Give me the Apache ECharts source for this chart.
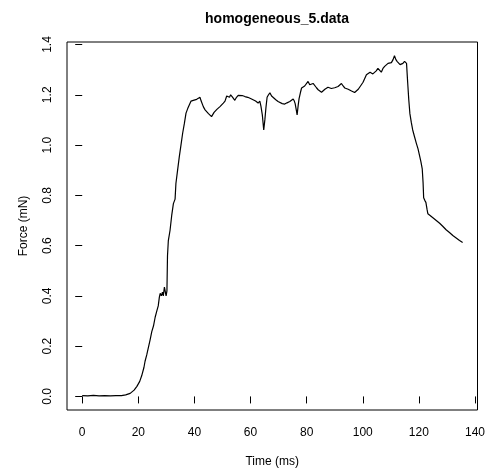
<!DOCTYPE html>
<html>
<head>
<meta charset="utf-8">
<script src="https://cdn.jsdelivr.net/npm/echarts@6/dist/echarts.min.js"></script>
<style>
html,body{margin:0;padding:0;background:#fff;}
#chart{width:488px;height:474px;}
</style>
</head>
<body>
<div id="chart"></div>
<script>
var titleText = 'homogeneous_5.data';
var xName = 'Time (ms)';
var yName = 'Force (mN)';
var xTicks = [0, 20, 40, 60, 80, 100, 120, 140];
var yTicks = [0, 0.2, 0.4, 0.6, 0.8, 1.0, 1.2, 1.4];

var timeMs = [0,2,4,6,8,10,12,14,15.5,17.1,18.5,19.5,20.5,21.2,22.0,22.4,23.0,23.6,24.2,24.8,25.4,26.0,26.6,27.1,27.5,27.8,28.2,28.6,28.9,29.3,29.5,29.9,30.2,30.4,30.7,31.3,31.9,32.5,33.1,33.4,34.0,34.6,35.2,35.8,36.4,37.0,37.6,38.2,38.8,39.2,39.6,40.2,40.8,41.4,42.0,42.4,42.8,43.2,43.8,44.4,45.0,45.5,46.1,46.6,47.0,47.5,48.0,48.5,49.1,49.6,50.3,50.9,51.5,52.0,52.5,52.9,53.5,54.0,54.4,55.0,55.6,56.2,57.0,58.0,59.0,60.0,60.9,61.8,62.7,63.3,63.7,64.2,64.7,65.1,65.5,65.9,66.4,66.9,67.5,68.1,69.0,69.8,70.5,71.3,72.2,73.0,74.0,75.2,75.6,75.9,76.3,76.6,77.0,77.3,77.8,78.2,78.8,79.3,80.0,80.5,81.1,81.7,82.3,82.9,83.5,84.1,84.7,85.3,86.0,86.5,87.0,87.6,88.2,88.8,89.4,90.0,90.6,91.2,91.8,92.4,93.0,93.6,94.2,94.8,95.3,96.0,96.6,97.1,97.8,98.4,98.9,99.5,100.1,100.7,101.3,102.0,102.6,103.1,103.6,104.2,104.8,105.4,106.0,106.6,107.2,107.8,108.4,109.0,109.6,110.2,110.8,111.3,111.8,112.3,112.8,113.3,113.7,114.3,114.9,115.3,115.6,116.0,116.4,116.8,117.3,117.8,118.4,119.1,119.7,120.2,120.7,121.2,121.5,121.7,122.1,122.5,122.9,123.2,124.0,125.0,126.2,127.4,128.5,129.7,130.9,132.1,133.3,134.5,135.6];
var forceMN = [0.003,0.002,0.004,0.002,0.003,0.002,0.003,0.003,0.006,0.012,0.025,0.04,0.06,0.082,0.115,0.14,0.165,0.195,0.225,0.258,0.28,0.315,0.34,0.36,0.395,0.41,0.40,0.415,0.40,0.435,0.44,0.40,0.42,0.56,0.62,0.66,0.72,0.767,0.785,0.847,0.90,0.953,1.00,1.047,1.085,1.127,1.145,1.16,1.175,1.168,1.178,1.172,1.182,1.176,1.19,1.175,1.17,1.152,1.14,1.133,1.125,1.118,1.113,1.12,1.13,1.135,1.142,1.148,1.153,1.16,1.167,1.175,1.195,1.2,1.19,1.2,1.192,1.185,1.178,1.19,1.198,1.2,1.197,1.193,1.19,1.185,1.18,1.175,1.167,1.175,1.155,1.12,1.06,1.1,1.15,1.19,1.2,1.208,1.195,1.19,1.18,1.173,1.17,1.165,1.163,1.168,1.173,1.183,1.175,1.165,1.14,1.12,1.16,1.185,1.21,1.227,1.225,1.235,1.24,1.253,1.24,1.233,1.245,1.238,1.228,1.22,1.215,1.21,1.215,1.222,1.225,1.23,1.236,1.225,1.223,1.228,1.232,1.233,1.238,1.245,1.235,1.227,1.22,1.222,1.22,1.215,1.212,1.209,1.215,1.222,1.228,1.24,1.25,1.265,1.28,1.282,1.29,1.287,1.283,1.28,1.295,1.305,1.298,1.29,1.305,1.313,1.318,1.325,1.33,1.328,1.34,1.355,1.34,1.332,1.325,1.32,1.316,1.325,1.333,1.33,1.325,1.25,1.18,1.125,1.09,1.06,1.035,1.007,0.985,0.96,0.935,0.905,0.85,0.79,0.78,0.772,0.745,0.727,0.72,0.711,0.70,0.689,0.677,0.663,0.652,0.64,0.63,0.62,0.612];

var pts = timeMs.map(function (t, i) { return [t, forceMN[i]]; });
var FONT = 'Liberation Sans, Arial, Helvetica, sans-serif';

var chart = echarts.init(document.getElementById('chart'), null, {renderer: 'canvas'});
chart.setOption({
  animation: false,
  backgroundColor: '#ffffff',
  title: {
    text: titleText,
    left: 272,
    top: 7,
    textAlign: 'center',
    textStyle: {fontFamily: FONT, fontSize: 14, fontWeight: 'bold', color: '#000'}
  },
  grid: {
    left: 67, right: 10, top: 42, bottom: 64,
    show: true, borderColor: '#000', borderWidth: 1, backgroundColor: 'transparent'
  },
  xAxis: {
    type: 'value',
    min: -5.42, max: 140.9,
    name: xName,
    nameLocation: 'middle',
    nameGap: 46,
    nameTextStyle: {fontFamily: FONT, fontSize: 12, color: '#000'},
    axisLine: {show: false},
    splitLine: {show: false},
    axisTick: {show: true, inside: false, length: 7, customValues: xTicks, lineStyle: {color: '#000', width: 1}},
    axisLabel: {show: true, customValues: xTicks, margin: 17, fontFamily: FONT, fontSize: 12, color: '#000',
      formatter: function (v) { return String(v); }}
  },
  yAxis: {
    type: 'value',
    min: -0.054, max: 1.41,
    name: yName,
    nameLocation: 'middle',
    nameGap: 37,
    nameTextStyle: {fontFamily: FONT, fontSize: 12, color: '#000'},
    axisLine: {show: false},
    splitLine: {show: false},
    axisTick: {show: true, inside: false, length: 7, customValues: yTicks, lineStyle: {color: '#000', width: 1}},
    axisLabel: {show: true, customValues: yTicks, rotate: 90, margin: 13, fontFamily: FONT, fontSize: 12, color: '#000',
      formatter: function (v) { return Number(v).toFixed(1); }}
  },
  series: [{
    type: 'line',
    data: pts,
    showSymbol: false,
    symbol: 'none',
    smooth: false,
    lineStyle: {color: '#000', width: 1.2},
    itemStyle: {color: '#000'}
  }]
});
</script>
</body>
</html>
